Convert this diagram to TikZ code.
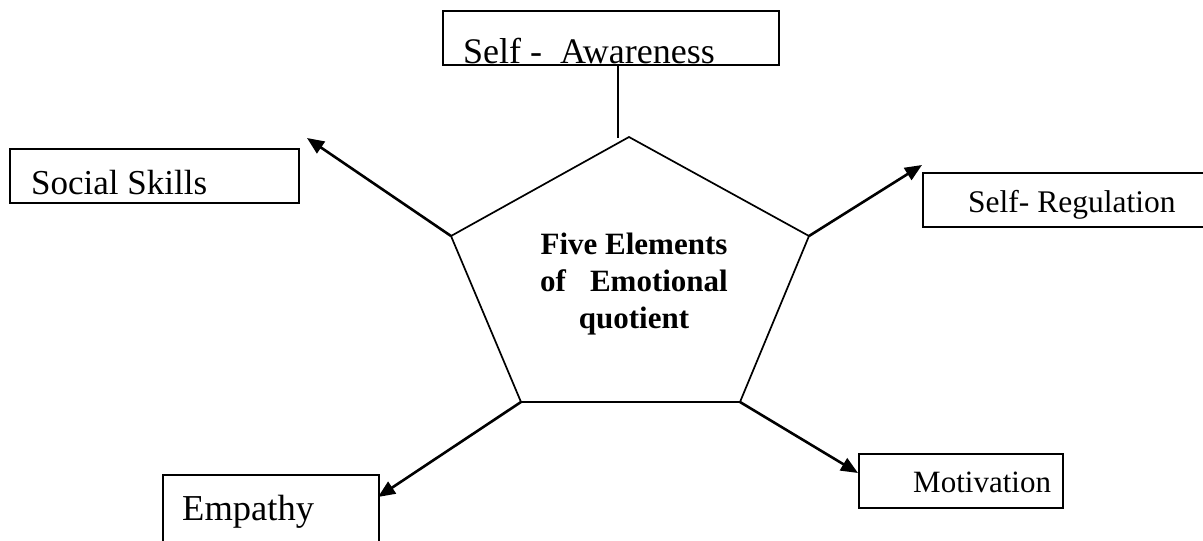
\documentclass[tikz,border=0pt]{standalone}
\usepackage{fontspec}
\setmainfont{Liberation Serif}
\usetikzlibrary{arrows.meta}
\begin{document}
\begin{tikzpicture}[x=1pt,y=-1pt,
  boxnode/.style={draw,line width=2pt,inner sep=0pt,rectangle,anchor=north west},
  lbl/.style={anchor=base west,inner sep=0pt},
  conn/.style={line width=2.6pt,-{Triangle[length=17pt,width=14pt]}},
  plain/.style={line width=2.2pt},
  pent/.style={line width=1.7pt,line join=miter}]
\useasboundingbox (0,0) rectangle (1203,541);
% pentagon vertices
\coordinate (ptop) at (629,137);
\coordinate (pleft) at (451,236);
\coordinate (pright) at (809,236);
\coordinate (pbl) at (521,402);
\coordinate (pbr) at (740,402);
\draw[pent] (ptop) -- (pright) -- (pbr) -- (pbl) -- (pleft) -- cycle;
\node[font=\bfseries\fontsize{31}{37}\selectfont,align=center,inner sep=0pt] (center) at (634,284)
  {Five Elements\\of\hspace{24pt}Emotional\\quotient};
% boxes
\node[boxnode,minimum width=336pt,minimum height=54pt] (sa) at (442,10) {};
\node[lbl,font=\fontsize{36}{40}\selectfont] (satext) at (463,63) {Self -\ \ Awareness};
\node[boxnode,minimum width=289pt,minimum height=54pt] (ss) at (9,148) {};
\node[lbl,font=\fontsize{35}{40}\selectfont] (sstext) at (31,194) {Social Skills};
\node[boxnode,minimum width=300pt,minimum height=54pt] (sr) at (922,172) {};
\node[lbl,font=\fontsize{31.5}{36}\selectfont] (srtext) at (968,212) {Self- Regulation};
\node[boxnode,minimum width=216pt,minimum height=80pt] (em) at (162,474) {};
\node[lbl,font=\fontsize{36.5}{40}\selectfont] (emtext) at (182,520) {Empathy};
\node[boxnode,minimum width=204pt,minimum height=54pt] (mo) at (858,453) {};
\node[lbl,font=\fontsize{31}{36}\selectfont] (motext) at (913,492) {Motivation};
% connectors
\coordinate (satop) at (618,64);
\coordinate (sabot) at (618,138);
\draw[plain] (satop) -- (sabot);
\coordinate (sstip) at (307,138);
\draw[conn] (pleft) -- (sstip);
\coordinate (srtip) at (922,165);
\draw[conn] (pright) -- (srtip);
\coordinate (emtip) at (378,497);
\draw[conn] (pbl) -- (emtip);
\coordinate (motip) at (858,473);
\draw[conn] (pbr) -- (motip);
\end{tikzpicture}
\end{document}
